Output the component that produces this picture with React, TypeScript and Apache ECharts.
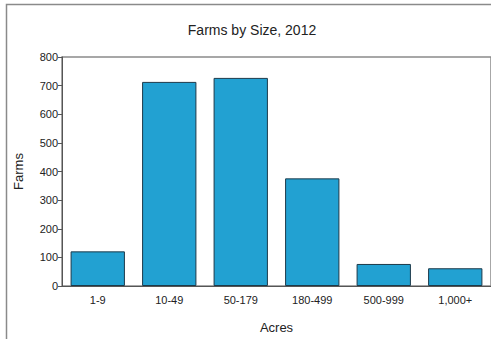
import React, { useEffect, useRef } from "react";
import * as echarts from "echarts";

const categories = ["1-9", "10-49", "50-179", "180-499", "500-999", "1,000+"];
const farms = [121, 713, 727, 376, 77, 62];
const yTicks = [0, 100, 200, 300, 400, 500, 600, 700, 800];

export default function App() {
  const ref = useRef<HTMLDivElement>(null);
  useEffect(() => {
    if (!ref.current) return;
    const chart = echarts.init(ref.current, null, { renderer: "svg" });
    const font = "Liberation Sans, Arial, sans-serif";
    chart.setOption({
      animation: false,
      backgroundColor: "#ffffff",
      title: {
        text: "Farms by Size, 2012",
        left: 247,
        top: 18,
        textAlign: "center",
        textStyle: { fontFamily: font, fontSize: 14, fontWeight: "normal", color: "#222" },
      },
      graphic: [
        {
          type: "rect",
          shape: { x: 6.5, y: 4.5, width: 600, height: 500 },
          style: { fill: "none", stroke: "#8a8a8a", lineWidth: 1.5 },
          silent: true,
        },
      ],
      grid: {
        left: 62,
        top: 57,
        width: 432,
        height: 236,
        show: true,
        borderColor: "#8a8a8a",
        borderWidth: 1.5,
        containLabel: false,
      },
      xAxis: {
        type: "category",
        data: categories,
        name: "Acres",
        nameLocation: "middle",
        nameGap: 35,
        nameTextStyle: { fontFamily: font, fontSize: 13, color: "#222" },
        axisLine: { lineStyle: { color: "#555", width: 1 } },
        axisTick: { show: false },
        axisLabel: { fontFamily: font, fontSize: 11, color: "#222", margin: 8 },
      },
      yAxis: {
        type: "value",
        min: yTicks[0],
        max: yTicks[yTicks.length - 1],
        interval: 100,
        name: "Farms",
        nameLocation: "middle",
        nameGap: 37,
        nameTextStyle: { fontFamily: font, fontSize: 13, color: "#222" },
        axisLine: { show: true, lineStyle: { color: "#555", width: 1 } },
        axisTick: { show: true, length: 4, lineStyle: { color: "#555" } },
        axisLabel: { fontFamily: font, fontSize: 11, color: "#222", margin: 4 },
        splitLine: { show: false },
      },
      series: [
        {
          type: "bar",
          data: farms,
          barCategoryGap: "24%",
          itemStyle: { color: "#22a1d2", borderColor: "#1d3a4a", borderWidth: 1 },
        },
      ],
    });
    return () => chart.dispose();
  }, []);
  return (
    <div
      ref={ref}
      style={{ position: "fixed", left: 0, top: 0, width: 491, height: 339 }}
    />
  );
}
